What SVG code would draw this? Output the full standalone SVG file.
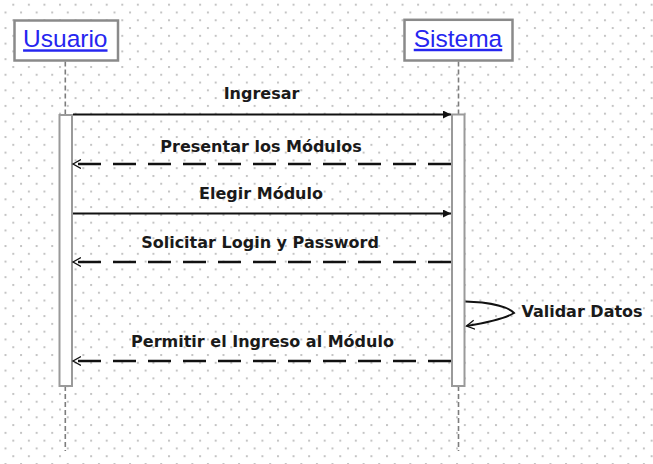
<svg xmlns="http://www.w3.org/2000/svg" width="653" height="464" viewBox="0 0 653 464">
  <style>
    .head { fill: #ffffff; stroke: #8a8a8a; stroke-width: 2.5; }
    .title { font-family: "Liberation Sans", Arial, sans-serif; font-size: 24.5px; fill: #2626f0; text-decoration: underline; text-anchor: middle; }
    .life { stroke: #7d7d7d; stroke-width: 1.6; stroke-dasharray: 5 3; fill: none; }
    .act { fill: #ffffff; stroke: #9a9a9a; stroke-width: 2; }
    .msg { stroke: #111111; stroke-width: 2; fill: none; }
    .call { marker-end: url(#filled); }
    .ret { stroke-width: 2.4; stroke-dasharray: 23 12; marker-end: url(#open); }
    .label { font-family: "DejaVu Sans", Verdana, sans-serif; font-weight: bold; font-size: 16px; fill: #1a1a1a; text-anchor: middle; }
  </style>
  <defs>
    <pattern id="grid" patternUnits="userSpaceOnUse" x="12.3" y="3.7" width="15.57" height="15.57">
      <rect x="0" y="0" width="2" height="2" fill="#c4c4c4"/>
      <rect x="7.785" y="7.785" width="2" height="2" fill="#c4c4c4"/>
    </pattern>
    <marker id="filled" markerUnits="userSpaceOnUse" markerWidth="10" markerHeight="10" refX="8" refY="4" orient="auto">
      <path d="M0,0 L8,4 L0,8 Z" fill="#111111"/>
    </marker>
    <marker id="open" markerUnits="userSpaceOnUse" markerWidth="12" markerHeight="12" refX="8" refY="5" orient="auto">
      <path d="M0,0.5 L8,5 L0,9.5" fill="none" stroke="#111111" stroke-width="1.3"/>
    </marker>
  </defs>

  <!-- dotted background -->
  <rect x="0" y="0" width="653" height="464" fill="#ffffff"/>
  <rect x="0" y="0" width="653" height="464" fill="url(#grid)"/>

  <!-- lifeline: Usuario -->
  <g id="usuario">
    <line class="life" x1="65.3" y1="61.5" x2="65.3" y2="114.5"/>
    <line class="life" x1="65.3" y1="386" x2="65.3" y2="451"/>
    <rect class="head" x="14.5" y="20.5" width="103.5" height="40"/>
    <text class="title" x="65.3" y="47.3">Usuario</text>
    <rect class="act" x="59.5" y="115" width="12.5" height="271"/>
  </g>

  <!-- lifeline: Sistema -->
  <g id="sistema">
    <line class="life" x1="458.5" y1="61.5" x2="458.5" y2="114"/>
    <line class="life" x1="458.5" y1="386" x2="458.5" y2="451"/>
    <rect class="head" x="404.5" y="19.8" width="108" height="40.7"/>
    <text class="title" x="458" y="46.8">Sistema</text>
    <rect class="act" x="452" y="114.5" width="12.5" height="271.5"/>
  </g>

  <!-- messages -->
  <g id="connectors">
    <line class="msg call" x1="73" y1="114.5" x2="451" y2="114.5"/>
    <text class="label" x="261.5" y="99">Ingresar</text>

    <line class="msg ret" x1="451" y1="164" x2="73" y2="164"/>
    <text class="label" x="261" y="151.5">Presentar los Módulos</text>

    <line class="msg call" x1="73" y1="213.5" x2="451" y2="213.5"/>
    <text class="label" x="261" y="198.5">Elegir Módulo</text>

    <line class="msg ret" x1="451" y1="262" x2="73" y2="262"/>
    <text class="label" x="260" y="248">Solicitar Login y Password</text>

    <path class="msg" d="M465.5,301.5 L482,302.5 C498,304.5 510,308.5 514,313 C506,318 488,322.5 466.5,326" marker-end="url(#open)"/>
    <text class="label" x="582" y="316.5">Validar Datos</text>

    <line class="msg ret" x1="451" y1="361" x2="73" y2="361"/>
    <text class="label" x="262.5" y="346.5">Permitir el Ingreso al Módulo</text>
  </g>
</svg>
